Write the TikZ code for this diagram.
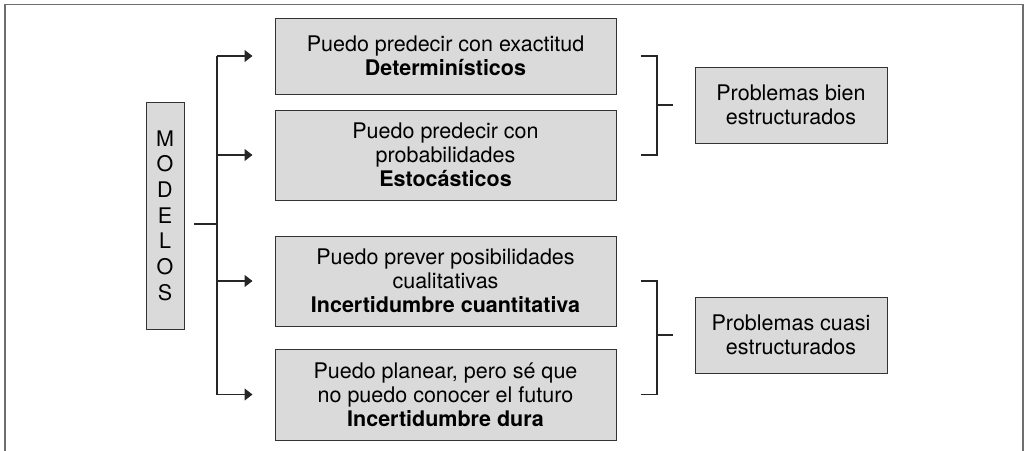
\documentclass[tikz,border=0pt]{standalone}
\usepackage{fontspec}
\setmainfont{TeX Gyre Heros}
\usetikzlibrary{arrows.meta,positioning}
\definecolor{boxgray}{RGB}{218,218,218}
\definecolor{framegray}{RGB}{110,110,110}

\begin{document}
\begin{tikzpicture}[
    x=1pt, y=-1pt,
    node distance=15pt and 22pt,
    box/.style={rectangle, draw=black!80, fill=boxgray, line width=1pt,
                minimum width=341pt, minimum height=76pt, inner sep=0pt,
                align=center, font=\fontsize{21.5}{24}\selectfont},
    probbox/.style={box, minimum width=192pt, minimum height=76pt},
    vbox/.style={box, minimum width=38pt, minimum height=227pt,
                 font=\fontsize{21.5}{25.7}\selectfont},
    conn/.style={line width=1.2pt, black!85},
    arr/.style={-{Triangle[length=8pt, width=12pt]}, conn}
]
\useasboundingbox (0,0) rectangle (1025,450);

% outer frame (open at the bottom)
\draw[line width=1.5pt, framegray] (5,460) -- (5,4.5) -- (1023,4.5) -- (1023,460);

% Left: models
\node[vbox] (modelos) at (165,215.5) {M\\O\\D\\E\\L\\O\\S};

% Middle column
\node[box] (det) at (445.5,56) {Puedo predecir con exactitud\\\textbf{Determinísticos}};
\node[box, minimum height=90pt, below=of det] (est) {Puedo predecir con\\probabilidades\\\textbf{Estocásticos}};
\node[box, minimum height=90pt, below=35pt of est] (inc) {Puedo prever posibilidades\\cualitativas\\\textbf{Incertidumbre cuantitativa}};
\node[box, minimum height=91pt, below=22pt of inc] (dura) {Puedo planear, pero sé que\\no puedo conocer el futuro\\\textbf{Incertidumbre dura}};

% Right column
\node[probbox] (bien) at (791,105) {Problemas bien\\estructurados};
\node[probbox] (cuasi) at (791,335) {Problemas cuasi\\estructurados};

% Tree
\coordinate (trunk) at (217,224);
\coordinate (stub) at (194,224);
\draw[conn] (stub) -- (trunk);
\draw[conn] (trunk |- det.west) -- (trunk |- dura.west);
\draw[arr] (trunk |- det.west) -- ([xshift=-22pt]det.west);
\draw[arr] (trunk |- est.west) -- ([xshift=-22pt]est.west);
\draw[arr] (trunk |- inc.west) -- ([xshift=-22pt]inc.west);
\draw[arr] (trunk |- dura.west) -- ([xshift=-22pt]dura.west);

% Brackets
\coordinate (bkt1) at (657,105);
\coordinate (bkt2) at (657,335);
\draw[conn] ([xshift=24pt]det.east) -| (bkt1 |- est.east) -- ([xshift=24pt]est.east);
\draw[conn] (bkt1) -- ([xshift=-22pt]bien.west);
\draw[conn] ([xshift=24pt]inc.east) -| (bkt2 |- dura.east) -- ([xshift=24pt]dura.east);
\draw[conn] (bkt2) -- ([xshift=-22pt]cuasi.west);
\end{tikzpicture}
\end{document}
